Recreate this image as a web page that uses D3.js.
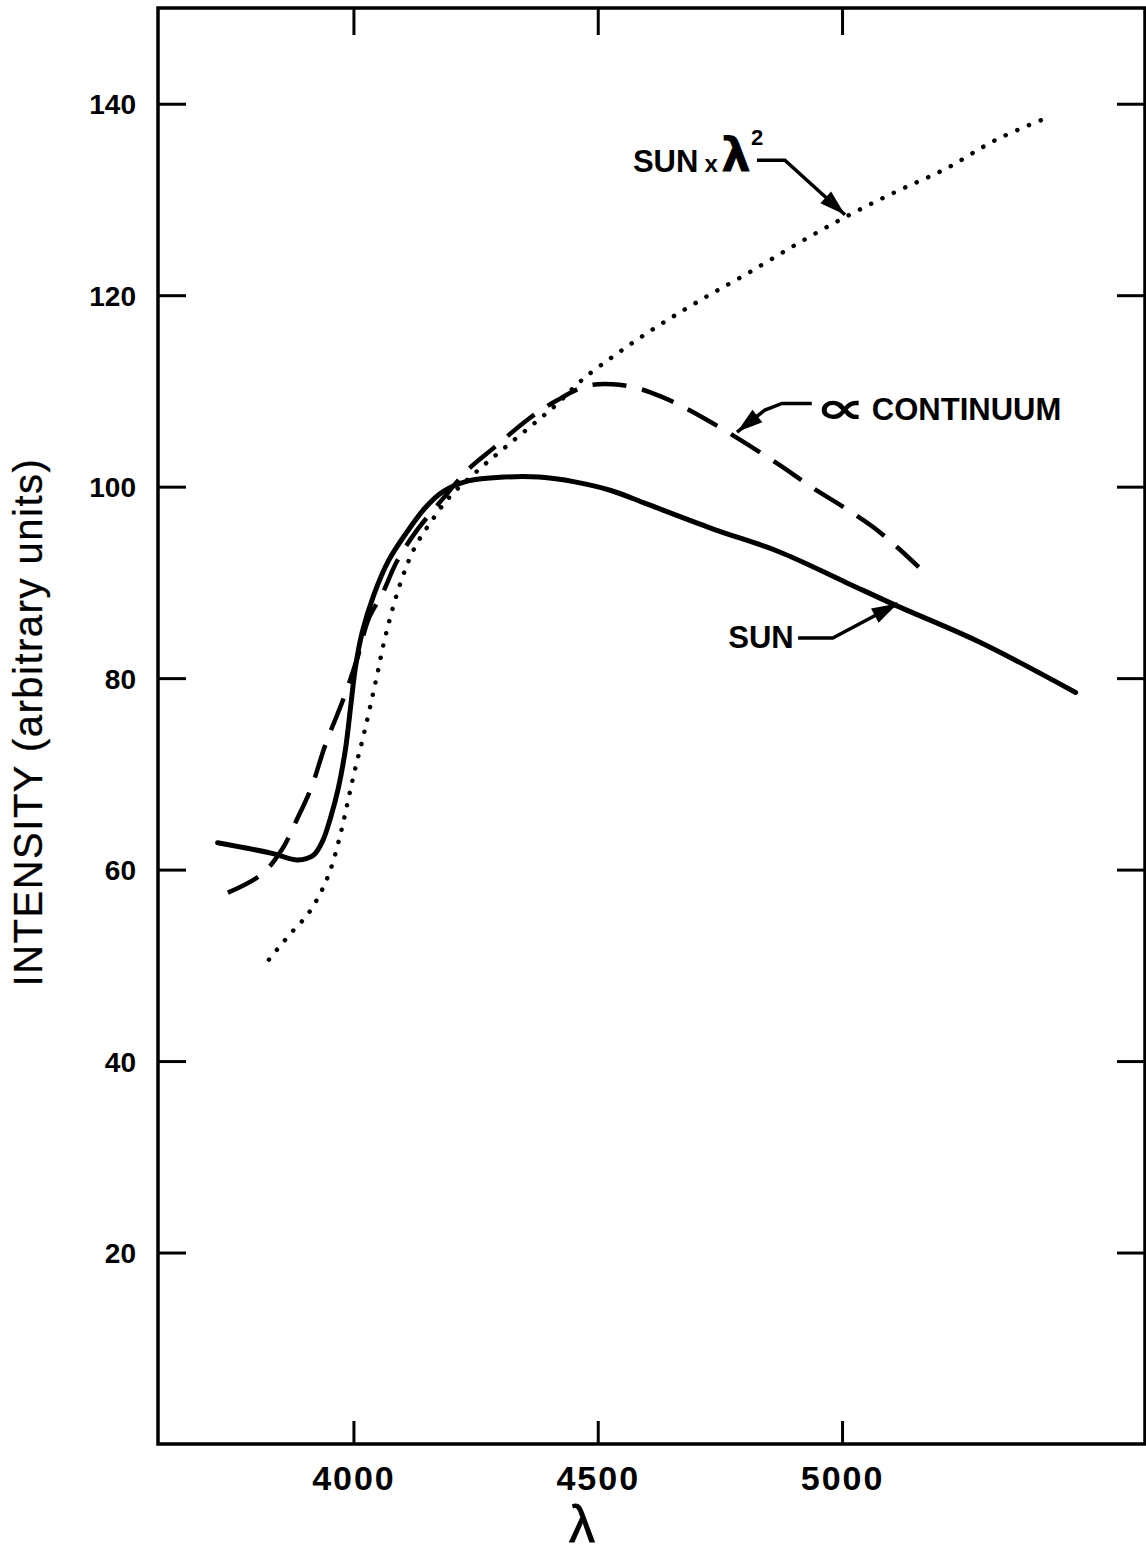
<!DOCTYPE html>
<html>
<head>
<meta charset="utf-8">
<script src="https://cdn.jsdelivr.net/npm/d3@7"></script>
<style>
body { margin: 0; background: #fff; }
text { font-family: "Liberation Sans", Arial, sans-serif; fill: #000; }
</style>
</head>
<body>
<svg id="chart" width="1146" height="1555"></svg>
<script>
// tick values
var xTicks = [4000, 4500, 5000];
var yTicks = [20, 40, 60, 80, 100, 120, 140];

// SUN (solid)
var sunLambda = [3722, 3833, 3886, 3918, 3937, 3953, 3969, 3984, 3994, 4004, 4018, 4041, 4071, 4110, 4147, 4184, 4235, 4308, 4380, 4453, 4527, 4600, 4735, 4871, 5008, 5110, 5280, 5478];
var sunIntensity = [62.8, 61.7, 61.0, 61.5, 63.0, 65.4, 68.5, 72.7, 76.9, 81.1, 84.8, 88.6, 92.2, 95.3, 97.8, 99.5, 100.6, 101.0, 101.0, 100.5, 99.6, 98.2, 95.6, 93.2, 90.0, 87.6, 83.8, 78.5];

// continuum (dashed)
var contLambda = [3743, 3812, 3855, 3884, 3914, 3943, 3980, 4008, 4031, 4059, 4088, 4125, 4184, 4235, 4286, 4359, 4416, 4476, 4530, 4580, 4630, 4676, 4756, 4871, 4939, 5008, 5076, 5157];
var contIntensity = [57.6, 59.5, 62.2, 65.2, 68.6, 73.1, 77.9, 82.1, 86.2, 88.8, 92.1, 95.1, 98.8, 101.8, 104.0, 107.1, 109.0, 110.5, 110.7, 110.3, 109.4, 108.3, 106.0, 102.3, 99.9, 97.7, 95.3, 91.6];

// SUN x lambda^2 (dotted)
var sqLambda = [3827, 3851, 3878, 3906, 3933, 3953, 3973, 3988, 4002, 4022, 4045, 4067, 4096, 4125, 4161, 4198, 4257, 4308, 4365, 4416, 4469, 4545, 4627, 4714, 4804, 4906, 5008, 5110, 5212, 5314, 5408];
var sqIntensity = [50.6, 52.1, 53.7, 55.3, 57.6, 60.0, 63.6, 67.0, 70.2, 74.3, 79.5, 84.7, 89.9, 93.6, 96.5, 99.0, 101.8, 104.0, 106.4, 108.6, 111.2, 114.1, 116.9, 119.6, 122.2, 125.3, 128.2, 130.8, 133.2, 136.2, 138.3];

var svg = d3.select("#chart");

var x = d3.scaleLinear().domain([3600, 5620]).range([158, 1145]);
var y = d3.scaleLinear().domain([0, 150]).range([1444, 8]);

// frame
svg.append("rect")
	.attr("x", x(3600))
	.attr("y", y(150))
	.attr("width", x(5620) - x(3600))
	.attr("height", y(0) - y(150))
	.attr("fill", "none")
	.attr("stroke", "#000")
	.attr("stroke-width", 3.5);

// axes, ticks pointing inwards
var axisLeftG = svg.append("g")
	.attr("transform", "translate(" + x(3600) + ",0)")
	.call(d3.axisLeft(y).tickValues(yTicks).tickSizeInner(-28).tickSizeOuter(0).tickFormat(d3.format("d")));
var axisRightG = svg.append("g")
	.attr("transform", "translate(" + x(5620) + ",0)")
	.call(d3.axisRight(y).tickValues(yTicks).tickSizeInner(-28).tickSizeOuter(0).tickFormat(""));
var axisBottomG = svg.append("g")
	.attr("transform", "translate(0," + y(0) + ")")
	.call(d3.axisBottom(x).tickValues(xTicks).tickSizeInner(-23).tickSizeOuter(0).tickFormat(d3.format("d")));
var axisTopG = svg.append("g")
	.attr("transform", "translate(0," + y(150) + ")")
	.call(d3.axisTop(x).tickValues(xTicks).tickSizeInner(-27).tickSizeOuter(0).tickFormat(""));

[axisLeftG, axisRightG, axisBottomG, axisTopG].forEach(function(g) {
	g.attr("font-family", null).attr("font-size", null);
	g.select(".domain").remove();
	g.selectAll(".tick line").attr("stroke", "#000").attr("stroke-width", 3);
});
axisLeftG.selectAll(".tick text")
	.attr("font-size", 28)
	.attr("font-weight", "bold")
	.attr("dy", "0.36em")
	.attr("x", -22)
	.attr("text-anchor", "end");
axisBottomG.selectAll(".tick text")
	.attr("font-size", 34)
	.attr("font-weight", "bold")
	.attr("letter-spacing", 2)
	.attr("dy", 0)
	.attr("y", 46);

// axis titles
svg.append("text")
	.attr("transform", "translate(42,722) rotate(-90)")
	.attr("text-anchor", "middle")
	.attr("font-size", 40)
	.attr("letter-spacing", 1.5)
	.attr("stroke", "#000")
	.attr("stroke-width", 0.3)
	.text("INTENSITY (arbitrary units)");

svg.append("text")
	.attr("x", 582)
	.attr("y", 1542)
	.attr("text-anchor", "middle")
	.attr("font-size", 52)
	.attr("stroke", "#000")
	.attr("stroke-width", 0.8)
	.text("λ");

// curves
function zip(a, b) {
	return a.map(function(v, i) { return [v, b[i]]; });
}
var line = d3.line()
	.x(function(d) { return x(d[0]); })
	.y(function(d) { return y(d[1]); })
	.curve(d3.curveCatmullRom.alpha(0.5));

svg.append("path")
	.attr("d", line(zip(sqLambda, sqIntensity)))
	.attr("fill", "none")
	.attr("stroke", "#000")
	.attr("stroke-width", 4.5)
	.attr("stroke-linecap", "round")
	.attr("stroke-dasharray", "0.1,12.5");

svg.append("path")
	.attr("d", line(zip(contLambda, contIntensity)))
	.attr("fill", "none")
	.attr("stroke", "#000")
	.attr("stroke-width", 4.5)
	.attr("stroke-dasharray", "34,16");

svg.append("path")
	.attr("d", line(zip(sunLambda, sunIntensity)))
	.attr("fill", "none")
	.attr("stroke", "#000")
	.attr("stroke-width", 5)
	.attr("stroke-linecap", "round");

// annotations (positions in data units)
function leader(pts) {
	var p = pts.map(function(d) { return [x(d[0]), y(d[1])]; });
	svg.append("path")
		.attr("d", d3.line()(p))
		.attr("fill", "none")
		.attr("stroke", "#000")
		.attr("stroke-width", 3.5);
	// arrow head at last point
	var a = p[p.length - 2], b = p[p.length - 1];
	var ang = Math.atan2(b[1] - a[1], b[0] - a[0]);
	var len = 26, wid = 8;
	var bx = b[0] - len * Math.cos(ang), by = b[1] - len * Math.sin(ang);
	var nx = -Math.sin(ang) * wid, ny = Math.cos(ang) * wid;
	svg.append("path")
		.attr("d", "M" + b[0] + "," + b[1] + "L" + (bx + nx) + "," + (by + ny) + "L" + (bx - nx) + "," + (by - ny) + "Z")
		.attr("fill", "#000");
}

// SUN x lambda^2
var sq = svg.append("text")
	.attr("x", x(4572))
	.attr("y", y(132.9))
	.attr("font-size", 31)
	.attr("font-weight", "bold");
sq.append("tspan").text("SUN");
sq.append("tspan").attr("dx", 6).attr("font-size", 24).text("x");
sq.append("tspan").attr("dx", 3).attr("font-size", 48)
	.style("font-family", "DejaVu Sans, sans-serif").text("λ");
sq.append("tspan").attr("dy", -27).attr("font-size", 22).text("2");
leader([[4826, 134.1], [4883, 134.1], [5006, 128.4]]);

// continuum
svg.append("text")
	.attr("transform", "translate(" + x(4945) + "," + y(106.6) + ") scale(1.6,1)")
	.attr("font-size", 44)
	.attr("font-weight", "bold")
	.style("font-family", "DejaVu Sans, sans-serif")
	.text("∝");
svg.append("text")
	.attr("x", x(5061))
	.attr("y", y(107.0))
	.attr("font-size", 31)
	.attr("font-weight", "bold")
	.text("CONTINUUM");
leader([[4938, 108.7], [4877, 108.7], [4842, 108.0], [4785, 105.7]]);

// SUN
svg.append("text")
	.attr("x", x(4767))
	.attr("y", y(83.1))
	.attr("font-size", 31)
	.attr("font-weight", "bold")
	.text("SUN");
leader([[4910, 84.2], [4981, 84.2], [5114, 87.8]]);
</script>
</body>
</html>
